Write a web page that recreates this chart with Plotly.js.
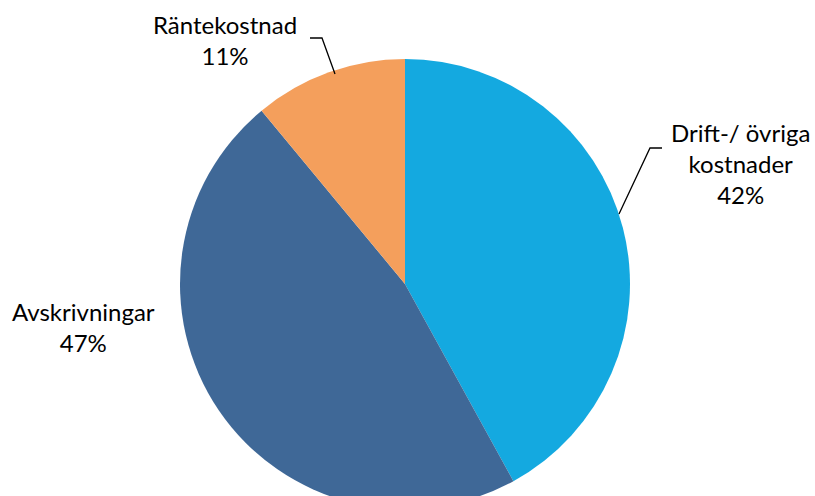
<!DOCTYPE html>
<html>
<head>
<meta charset="utf-8">
<script src="https://cdn.plot.ly/plotly-3.0.1.min.js"></script>
<style>html,body{margin:0;padding:0;background:#fff;overflow:hidden;}#chart{width:815px;height:520px;}</style>
</head>
<body>
<div id="chart"></div>
<script>
// Data
const labels = ["Drift-/ övriga kostnader", "Avskrivningar", "Räntekostnad"];
const labelLines = ["Drift-/ övriga<br>kostnader", "Avskrivningar", "Räntekostnad"];
const values = [42, 47, 11];
const colors = ["#14a9e0", "#3f6897", "#f49f5c"];

const W = 815, H = 520;
const px = x => x / W;
const py = y => 1 - y / H;

// label placement (pixel positions of label centres)
const labelPos = [
  {x: 740, y: 163},
  {x: 83, y: 327},
  {x: 225, y: 40}
];

const annotations = labels.map((l, i) => ({
  xref: 'paper', yref: 'paper',
  x: px(labelPos[i].x), y: py(labelPos[i].y),
  xanchor: 'center', yanchor: 'middle',
  text: labelLines[i] + '<br>' + values[i] + '%',
  showarrow: false, align: 'center',
  font: {family: 'Lato, "Liberation Sans", sans-serif', size: 24, color: '#000'}
}));

function path(pts) {
  return pts.map((p, i) => (i ? 'L' : 'M') + px(p[0]) + ',' + py(p[1])).join(' ');
}
const shapes = [
  {type: 'path', xref: 'paper', yref: 'paper', path: path([[310, 38], [322, 38], [335, 74]]), line: {color: '#000', width: 1.3}},
  {type: 'path', xref: 'paper', yref: 'paper', path: path([[662, 148], [650, 148], [619, 214]]), line: {color: '#000', width: 1.3}}
];

const cx = 405, cy = 284, r = 225;
const trace = {
  type: 'pie',
  labels: labels,
  values: values,
  sort: false,
  direction: 'clockwise',
  rotation: 0,
  marker: {colors: colors, line: {width: 0}},
  textinfo: 'none',
  hoverinfo: 'label+percent',
  showlegend: false,
  domain: {x: [px(cx - r), px(cx + r)], y: [py(cy + r), py(cy - r)]}
};

Plotly.newPlot('chart', [trace], {
  width: W, height: H,
  margin: {l: 0, r: 0, t: 0, b: 0},
  paper_bgcolor: '#fff',
  annotations: annotations,
  shapes: shapes,
  showlegend: false
}, {displayModeBar: false, staticPlot: true});
</script>
</body>
</html>
